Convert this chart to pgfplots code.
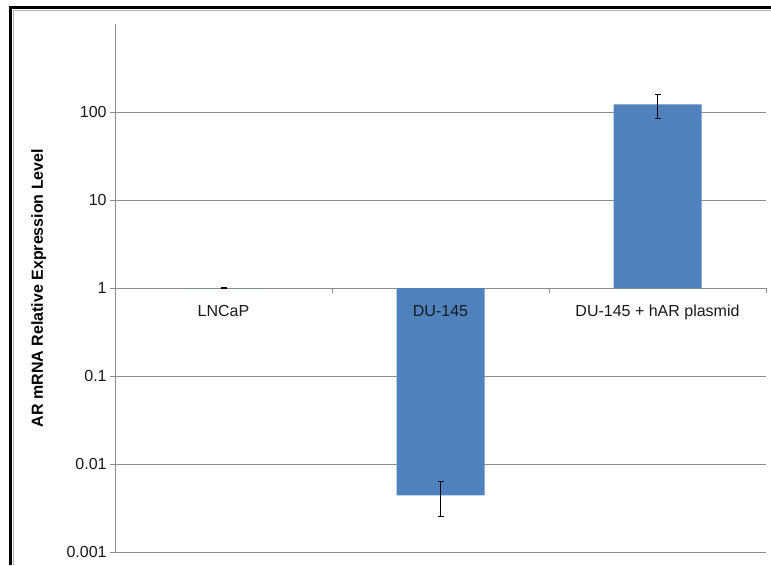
\documentclass[border=0pt]{standalone}
\usepackage{pgfplots}
\pgfplotsset{compat=1.18}
\usepackage{fontspec}
\setmainfont{Liberation Sans}

\definecolor{barblue}{RGB}{79,129,189}
\definecolor{gridgray}{RGB}{140,140,140}

\begin{document}
\begin{tikzpicture}[x=0.75pt,y=0.75pt]
% page extent
\useasboundingbox (0,0) rectangle (771,565);
% frame
\draw[black, line width=2.25pt] (10.5,0) -- (10.5,557.5) -- (771,557.5);
\draw[gray!60, line width=0.75pt] (13.5,0) -- (13.5,554.5) -- (771,554.5);

\begin{axis}[
  at={(86.25pt,9.75pt)}, anchor=south west,
  scale only axis,
  width=488.25pt, height=396pt,
  ymode=log,
  ymin=0.001, ymax=1000,
  xmin=-0.5, xmax=2.5,
  clip=false,
  axis y line*=left,
  axis x line*=middle,
  axis line style={gridgray, line width=0.75pt, -},
  ytick={0.001,0.01,0.1,1,10,100},
  yticklabels={0.001,0.01,0.1,1,10,100},
  yminorticks=false,
  ymajorgrids,
  major grid style={gridgray, line width=0.75pt},
  ytick align=outside,
  ytick style={gridgray, line width=0.75pt},
  major tick length=3.75pt,
  xtick={0,1,2},
  xticklabels={},
  xtick style={draw=none},
  tick label style={font=\fontsize{12}{14}\selectfont, text=black!90},
  yticklabel style={xshift=1pt},
  /pgf/number format/assume math mode=true,
  /pgfplots/ylabel={\textbf{AR mRNA Relative Expression Level}},
  /pgfplots/ylabel style={at={(axis description cs:-0.1170,0.5)}, anchor=center,
    font=\fontsize{12}{14}\selectfont},
]
\addplot[ybar, bar width=66pt, fill=barblue, draw=none,
  error bars/.cd, y dir=both, y explicit,
  error bar style={black, line width=0.75pt},
  error mark options={rotate=90, mark size=2.25pt, black, line width=0.75pt}]
  coordinates {
    (0,1)      +- (0,0.01)
    (1,0.0044) +- (0,0.0019)
    (2,122)    +- (0,37)
  };
% category separators on the axis at 1
\draw[gridgray, line width=0.75pt] (axis cs:0.5,1) -- ([yshift=-3.75pt]axis cs:0.5,1);
\draw[gridgray, line width=0.75pt] (axis cs:1.5,1) -- ([yshift=-3.75pt]axis cs:1.5,1);
\draw[gridgray, line width=0.75pt] (axis cs:2.5,1) -- ([yshift=-3.75pt]axis cs:2.5,1);
\end{axis}

% category names, set over the bars
\begin{axis}[
  at={(86.25pt,9.75pt)}, anchor=south west,
  scale only axis,
  width=488.25pt, height=396pt,
  ymode=log,
  ymin=0.001, ymax=1000,
  xmin=-0.5, xmax=2.5,
  clip=false,
  axis x line*=middle,
  axis y line=none,
  axis line style={draw=none},
  ytick=\empty,
  xtick={0,1,2},
  xticklabels={LNCaP, DU-145, DU-145 + hAR plasmid},
  xtick style={draw=none},
  xticklabel style={yshift=-9.5pt},
  tick label style={font=\fontsize{12}{14}\selectfont, text=black!90},
]
\end{axis}
\end{tikzpicture}
\end{document}
